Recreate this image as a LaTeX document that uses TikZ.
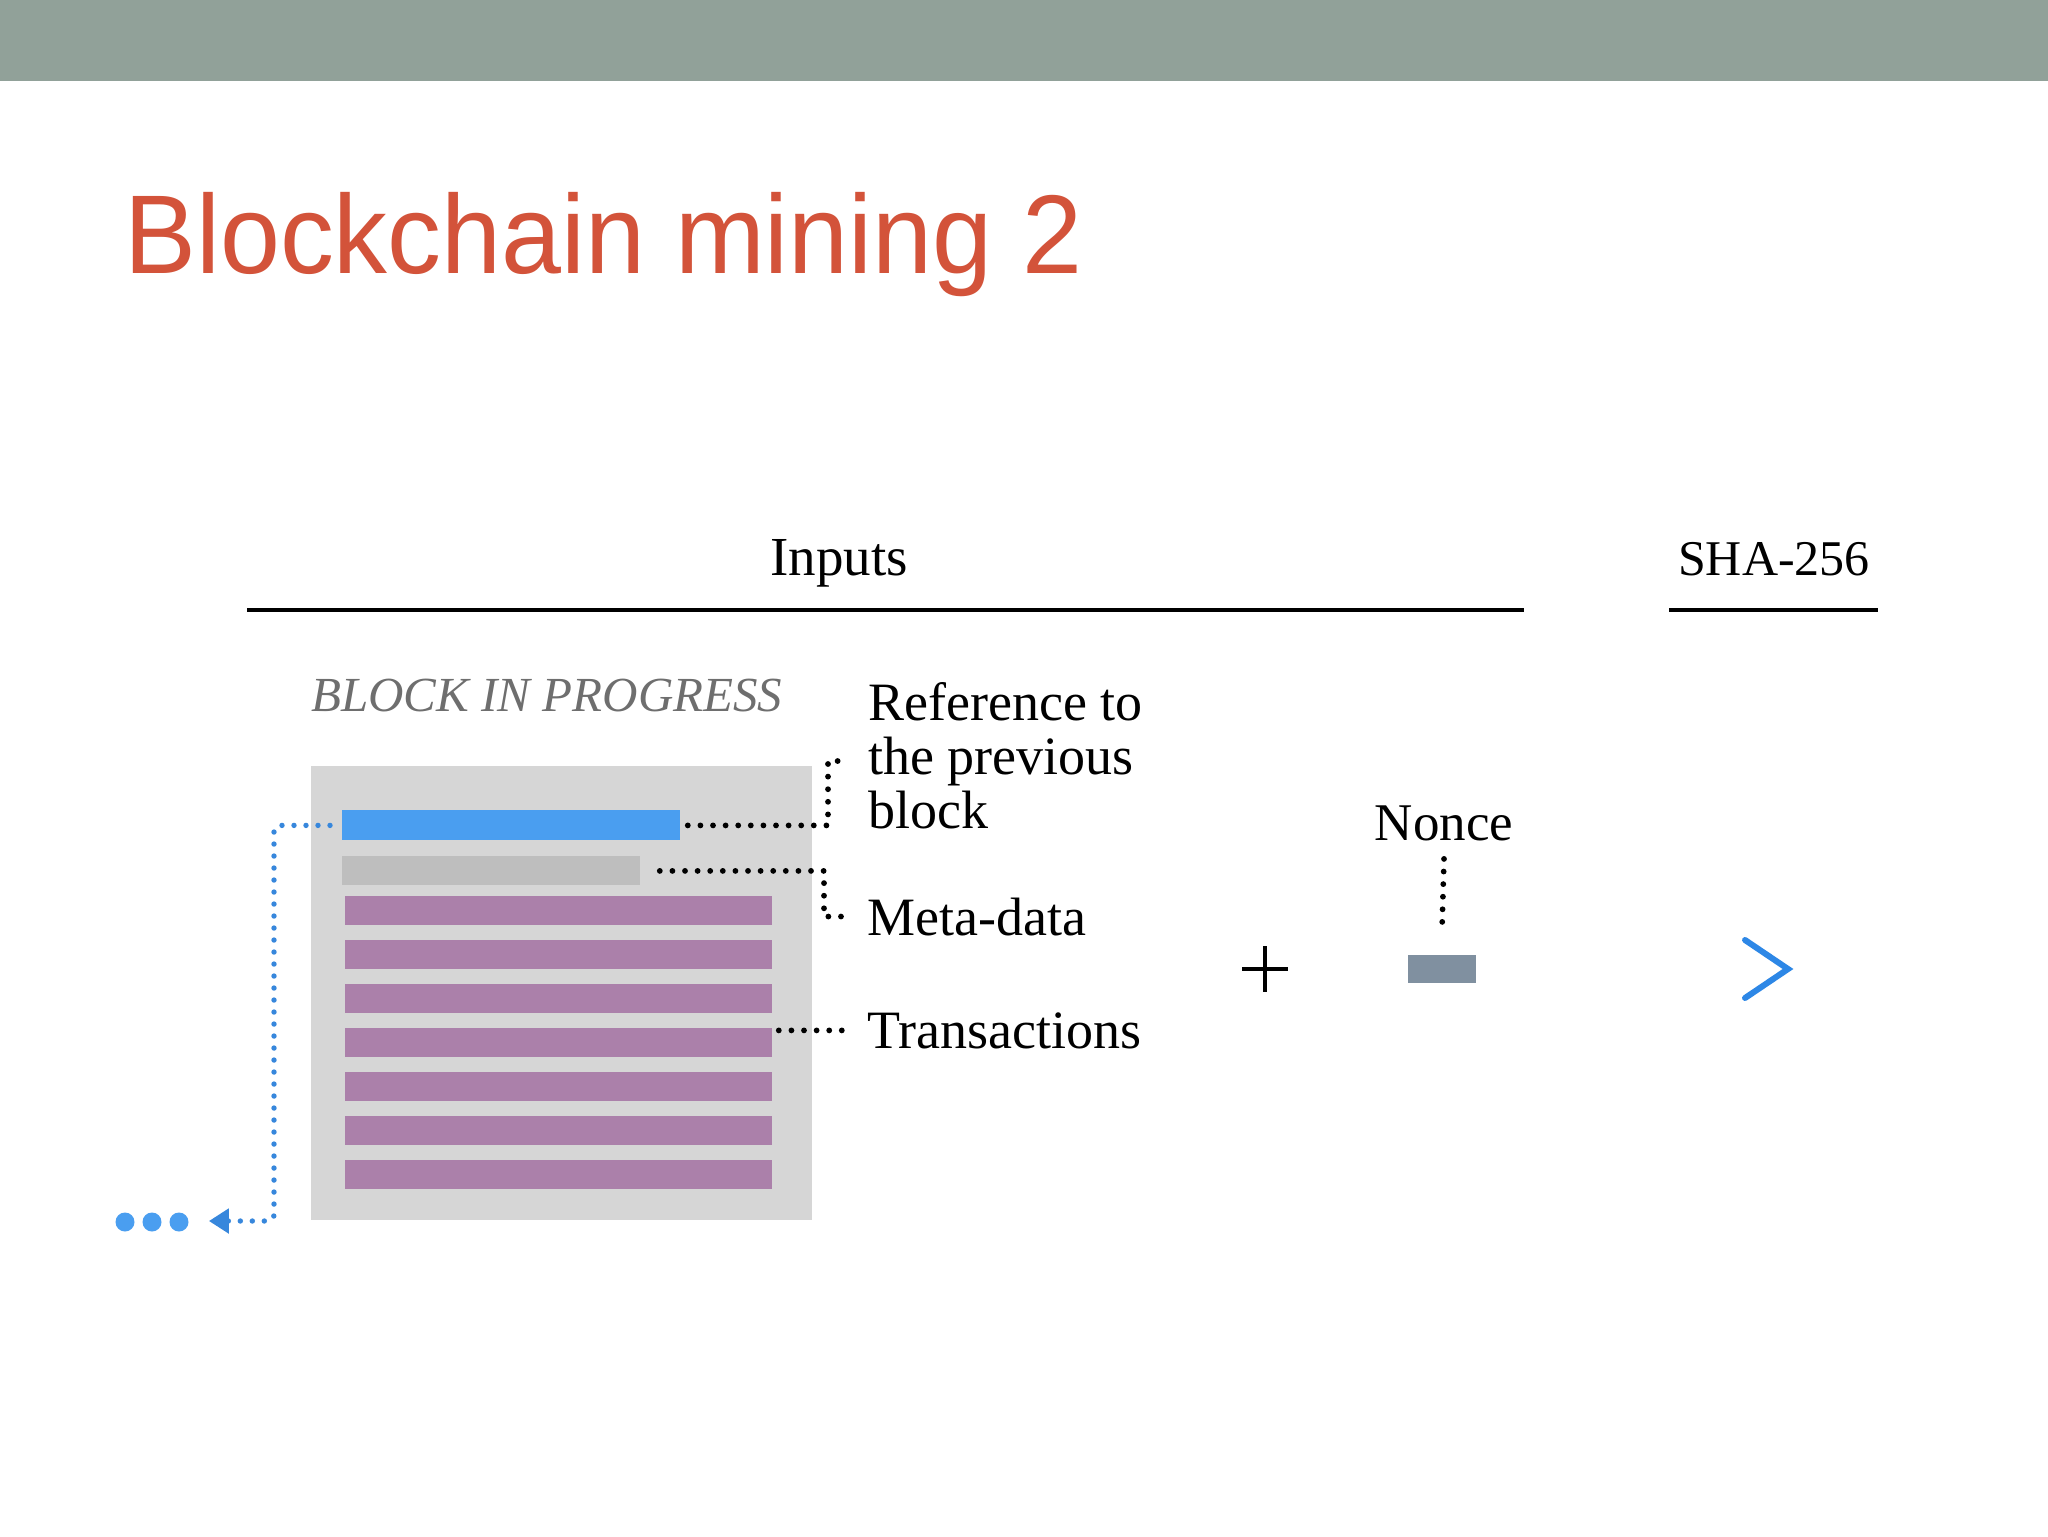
\documentclass[tikz,border=0pt]{standalone}
\usepackage{graphicx}
\usepackage{fontspec}
\setmainfont{Liberation Serif}
\newfontfamily\titlefont{Liberation Sans}
\usetikzlibrary{arrows.meta}
\definecolor{topbar}{RGB}{145,161,153}
\definecolor{titlered}{RGB}{211,83,58}
\definecolor{blockgray}{RGB}{214,214,214}
\definecolor{barblue}{RGB}{74,158,240}
\definecolor{metagray}{RGB}{190,190,190}
\definecolor{txpurple}{RGB}{171,128,170}
\definecolor{noncegray}{RGB}{128,144,160}
\definecolor{dotblue}{RGB}{55,135,220}
\definecolor{chevblue}{RGB}{45,135,230}
\definecolor{captiongray}{RGB}{110,110,110}
\begin{document}
\begin{tikzpicture}[x=0.5pt,y=-0.5pt,
  lbl/.style={font=\fontsize{27}{27}\selectfont, inner sep=0, anchor=base west},
  hdr/.style={inner sep=0, anchor=base},
  bar/.style={inner sep=0, anchor=north west, minimum height=14.5pt, draw=none},
  txbar/.style={bar, fill=txpurple, minimum width=213.5pt},
  blackdots/.style={line width=2.9pt, dash pattern=on 0pt off 6.3pt, line cap=round, black},
  bluedots/.style={line width=2.7pt, dash pattern=on 0pt off 6pt, line cap=round, dotblue},
  bdot/.style={circle, fill=barblue, inner sep=0, minimum size=9.5pt},
]
\useasboundingbox (0,0) rectangle (2048,1536);
\fill[white] (0,0) rectangle (2048,1536);
\fill[topbar] (0,0) rectangle (2048,81);

% title
\node[anchor=base west, inner sep=0, text=titlered, font=\titlefont\fontsize{56}{56}\selectfont] (title) at (124,273) {\scalebox{0.962}[1]{Blockchain mining 2}};

% headers
\node[hdr, font=\fontsize{27.5}{27.5}\selectfont] (inputs) at (839,575) {Inputs};
\node[hdr, font=\fontsize{25}{25}\selectfont] (sha) at (1774,575) {SHA-256};
\draw[line width=1.6pt] (247,610) -- (1524,610);
\draw[line width=1.6pt] (1669,610) -- (1878,610);

% block in progress
\node[inner sep=0, anchor=base west, text=captiongray, font=\itshape\fontsize{24.5}{24.5}\selectfont] (bip) at (311,711) {BLOCK IN PROGRESS};
\node[bar, fill=blockgray, minimum width=250.5pt, minimum height=227pt] (block) at (311,766) {};
\node[bar, fill=barblue, minimum width=169pt, minimum height=15pt] (bluebar) at (342,810) {};
\node[bar, fill=metagray, minimum width=149pt] (metabar) at (342,856) {};
\foreach \i/\y in {1/896,2/940,3/984,4/1028,5/1072,6/1116,7/1160}
  \node[txbar] (tx\i) at (345,\y) {};

% labels
\node[lbl] (ref1) at (868,720) {Reference to};
\node[lbl] (ref2) at (868,774) {the previous};
\node[lbl] (ref3) at (868,828) {block};
\node[lbl] (meta) at (867,935) {Meta-data};
\node[lbl] (trans) at (867,1048) {Transactions};

% label connectors
\draw[blackdots] ([xshift=3.5pt]bluebar.east) -| ([xshift=-20pt]ref2.west) -- ([xshift=-9pt]ref2.west);
\draw[blackdots] ([xshift=9.5pt]metabar.east) -| ([xshift=-21.5pt]meta.west) -- ([xshift=-8.5pt]meta.west);
\draw[blackdots] ([xshift=3pt]tx4.east |- trans.west) -- ([xshift=-9pt]trans.west);

% plus and nonce
\draw[line width=2pt] (1242,969) -- (1288,969) (1265,946) -- (1265,992);
\node[hdr, font=\fontsize{26.5}{26.5}\selectfont] (nonce) at (1444,840) {Nonce};
\node[bar, fill=noncegray, minimum width=34pt, minimum height=14pt, anchor=center] (nrect) at (1442,969) {};
\draw[blackdots] ([yshift=-9pt]nonce.south) -- ([yshift=12.5pt]nrect.north);

% chevron
\draw[chevblue, line width=3pt, line cap=round] (1745,940) -- (1788,969) -- (1745,998);

% link to previous blocks
\node[bdot] (d1) at (125,1222) {};
\node[bdot] (d2) at (152,1222) {};
\node[bdot] (d3) at (179,1222) {};
\coordinate (turn) at (274,1221);
\draw[bluedots, rounded corners=3pt, -{Triangle[length=10pt,width=12pt]}] ([xshift=-6pt]bluebar.west) -| (turn) -- ([xshift=10pt]d3.east |- turn);
\end{tikzpicture}
\end{document}
